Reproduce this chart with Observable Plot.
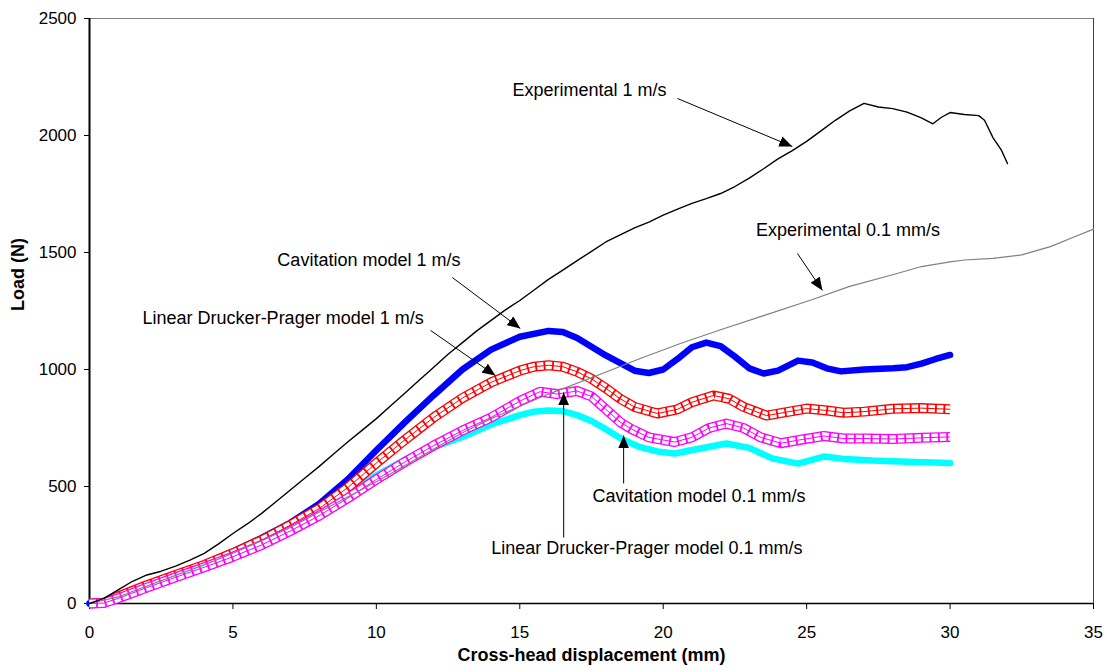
<!DOCTYPE html>
<html>
<head>
<meta charset="utf-8">
<script src="https://cdn.jsdelivr.net/npm/d3@7"></script>
<script src="https://cdn.jsdelivr.net/npm/@observablehq/plot@0.6"></script>
<style>
  html, body { margin: 0; padding: 0; background: #fff; }
  #chart svg { display: block; }
</style>
</head>
<body>
<div id="chart"></div>
<script>
// ---------- Data ----------
// Experimental 1 m/s (black)
const expFastX = [0,0.5,1,1.5,2,2.5,3,3.5,4,4.5,5,5.5,6,6.5,7,7.5,8,8.5,9,9.5,10,10.5,11,11.5,12,12.5,13,13.5,14,14.5,15,15.5,16,16.5,17,17.5,18,18.5,19,19.5,20,20.5,21,21.5,22,22.5,23,23.5,24,24.5,25,25.5,26,26.5,27,27.5,28,28.5,29,29.4,29.7,30,30.5,31,31.2,31.5,31.8,32];
const expFastY = [0,22,58,95,122,138,160,185,214,255,299,340,385,435,485,535,585,638,690,740,790,845,900,955,1010,1065,1115,1165,1210,1255,1295,1340,1385,1425,1465,1505,1545,1575,1605,1630,1660,1685,1710,1730,1752,1782,1818,1858,1900,1935,1975,2020,2065,2105,2137,2122,2115,2100,2075,2050,2078,2098,2090,2085,2065,1990,1935,1880];

// Experimental 0.1 mm/s (grey)
const expSlowX = [0,1,2,3,4,5,6,7,8,9,10,11,12,13,14,14.5,16,17.5,19.2,20.6,22,23.5,25.1,26.5,28,29,30,30.5,31.5,32.5,33.5,34.3,35];
const expSlowY = [0,28,75,120,165,215,268,325,390,455,520,590,660,730,790,816,895,965,1047,1111,1170,1230,1295,1355,1405,1440,1460,1468,1475,1490,1525,1565,1600];

// Cavitation model 1 m/s (blue)
const cavFastX = [0,0.5,1,2,3,4,5,6,7,8,9,10,11,12,13,14,15,16,16.5,17,18,19,19.5,20,20.5,21,21.5,22,22.5,23,23.5,24,24.7,25.2,25.7,26.2,27,28,28.5,29,29.5,30];
const cavFastY = [0,3,30,80,125,170,222,280,345,425,530,655,775,890,1000,1085,1140,1165,1160,1135,1060,995,985,1000,1045,1095,1115,1100,1055,1005,983,995,1038,1030,1005,992,1000,1005,1010,1025,1045,1062];

// Linear Drucker-Prager model 1 m/s (red squares)
const dpFastX = [0,0.5,1,2,3,4,5,6,7,8,9,10,11,12,13,14,15,15.5,16,16.5,17,17.5,18,18.5,19,19.8,20.5,21,21.75,22.3,22.8,23.6,24.3,25,25.7,26.3,27,28,29,30];
const dpFastY = [0,3,30,78,122,165,215,270,335,405,495,600,700,795,878,945,995,1012,1018,1012,990,960,920,875,840,812,830,860,889,875,840,803,818,833,825,815,820,832,835,830];

// Linear Drucker-Prager model 0.1 mm/s (magenta squares)
const dpSlowX = [0,0.5,1,2,3,4,5,6,7,8,9,10,11,12,13,14,14.5,15,15.7,16.3,17,17.5,18,18.5,18.9,19.5,20.4,21,21.6,22.2,22.8,23.4,24.1,24.8,25.6,26.3,27.1,28,29,30];
const dpSlowY = [0,2,22,68,112,155,200,250,310,375,450,530,605,675,739,795,830,865,905,895,908,885,830,775,745,710,690,710,750,769,750,710,685,700,716,705,705,703,708,712];

// Cavitation model 0.1 mm/s (cyan)
const cavSlowX = [0,0.5,1,2,3,4,5,6,7,8,9,10,11,12,13,14,15,15.5,16,16.5,17,17.5,18,18.6,19.2,19.8,20.4,21.2,22.2,23,23.8,24.7,25.6,26.3,27.3,28.5,30];
const cavSlowY = [0,2,25,70,115,160,205,258,318,388,468,548,615,668,712,765,805,820,825,822,805,780,745,700,668,650,641,660,684,665,620,598,628,618,611,606,600];

// Axis ticks
const xTicks = [0,5,10,15,20,25,30,35];
const yTicks = [0,500,1000,1500,2000,2500];

// Annotations (data units)
const labelText = ["Experimental 1 m/s","Experimental 0.1 mm/s","Cavitation model 1 m/s","Linear Drucker-Prager model 1 m/s","Cavitation model 0.1 mm/s","Linear Drucker-Prager model 0.1 mm/s"];
const labelX = [17.43,26.44,9.74,6.75,21.25,19.43];
const labelY = [2192,1594,1466,1218,457,235];
const arrowX1 = [20.5,24.68,12.65,11.89,18.62,16.53];
const arrowY1 = [2158,1496,1393,1167,513,282];
const arrowX2 = [24.5,25.55,15.02,14.15,18.62,16.53];
const arrowY2 = [1953,1338,1175,974,718,902];

// ---------- Tables ----------
const toRows = (xs, ys) => xs.map((x, i) => ({x, y: ys[i]}));
const expFast = toRows(expFastX, expFastY);
const expSlow = toRows(expSlowX, expSlowY);
const cavFast = toRows(cavFastX, cavFastY);
const dpFast = toRows(dpFastX, dpFastY);
const dpSlow = toRows(dpSlowX, dpSlowY);
const cavSlow = toRows(cavSlowX, cavSlowY);
const labels = labelText.map((t, i) => ({t, x: labelX[i], y: labelY[i]}));
const arrows = arrowX1.map((x1, i) => ({x1, y1: arrowY1[i], x2: arrowX2[i], y2: arrowY2[i]}));

const font = "'Liberation Sans', Arial, Helvetica, sans-serif";

// chain of open square markers drawn as a styled line
function squaresBand(data, color) {
  return [
    Plot.line(data, {x: "x", y: "y", stroke: color, strokeWidth: 10, strokeLinejoin: "round", strokeLinecap: "butt"}),
    Plot.line(data, {x: "x", y: "y", stroke: "white", strokeWidth: 7.4, strokeDasharray: "6.6,1.8", strokeLinejoin: "miter", strokeLinecap: "butt"}),
    Plot.line(data, {x: "x", y: "y", stroke: color, strokeWidth: 1, strokeLinecap: "butt"})
  ];
}

const chart = Plot.plot({
  width: 1107,
  height: 672,
  marginLeft: 89,
  marginRight: 14,
  marginTop: 18,
  marginBottom: 69,
  style: {fontFamily: font, fontSize: "17px", color: "black", background: "white"},
  x: {domain: [0, 35]},
  y: {domain: [0, 2500]},
  marks: [
    Plot.axisX({ticks: xTicks, tickSize: 6, tickPadding: 16, fontSize: 17, label: null, tickFormat: d => String(d)}),
    Plot.axisY({ticks: yTicks, tickSize: 5, tickPadding: 8, fontSize: 17, label: null, tickFormat: d => String(d)}),
    Plot.ruleY([2500], {stroke: "#808080", strokeWidth: 1}),
    Plot.ruleX([35], {stroke: "#404040", strokeWidth: 1}),
    Plot.ruleX([0], {stroke: "black", strokeWidth: 2}),
    Plot.ruleY([0], {stroke: "black", strokeWidth: 1.5}),
    Plot.line(cavSlow, {x: "x", y: "y", stroke: "#00ffff", strokeWidth: 6.5}),
    Plot.line(cavFast, {x: "x", y: "y", stroke: "#0000ff", strokeWidth: 6.5}),
    ...squaresBand(dpFast, "#ff0000"),
    ...squaresBand(dpSlow, "#ff00ff"),
    Plot.line(expSlow, {x: "x", y: "y", stroke: "#808080", strokeWidth: 1.2}),
    Plot.line(expFast, {x: "x", y: "y", stroke: "black", strokeWidth: 1.4}),
    Plot.link(arrows, {x1: "x1", y1: "y1", x2: "x2", y2: "y2", stroke: "black", strokeWidth: 1}),
    Plot.text(labels, {x: "x", y: "y", text: "t", fontSize: 18, textAnchor: "middle", lineAnchor: "middle", fill: "black"}),
    Plot.text(["Cross-head displacement (mm)"], {frameAnchor: "bottom", dy: 57, fontSize: 18, fontWeight: "bold", fill: "black"}),
    Plot.text(["Load (N)"], {frameAnchor: "left", dx: -71, rotate: -90, fontSize: 18, fontWeight: "bold", fill: "black"})
  ]
});

// filled triangular arrow heads for the annotation links
const svg = d3.select(chart);
const defs = svg.append("defs");
const mk = defs.append("marker")
  .attr("id", "ahead")
  .attr("viewBox", "0 0 13 11")
  .attr("refX", 13).attr("refY", 5.5)
  .attr("markerWidth", 13).attr("markerHeight", 11)
  .attr("markerUnits", "userSpaceOnUse")
  .attr("orient", "auto");
mk.append("path").attr("d", "M0,0L13,5.5L0,11Z").attr("fill", "black");
svg.selectAll('g[aria-label="link"] path, g[aria-label="link"] line').attr("marker-end", "url(#ahead)");

document.getElementById("chart").appendChild(chart);
</script>
</body>
</html>
